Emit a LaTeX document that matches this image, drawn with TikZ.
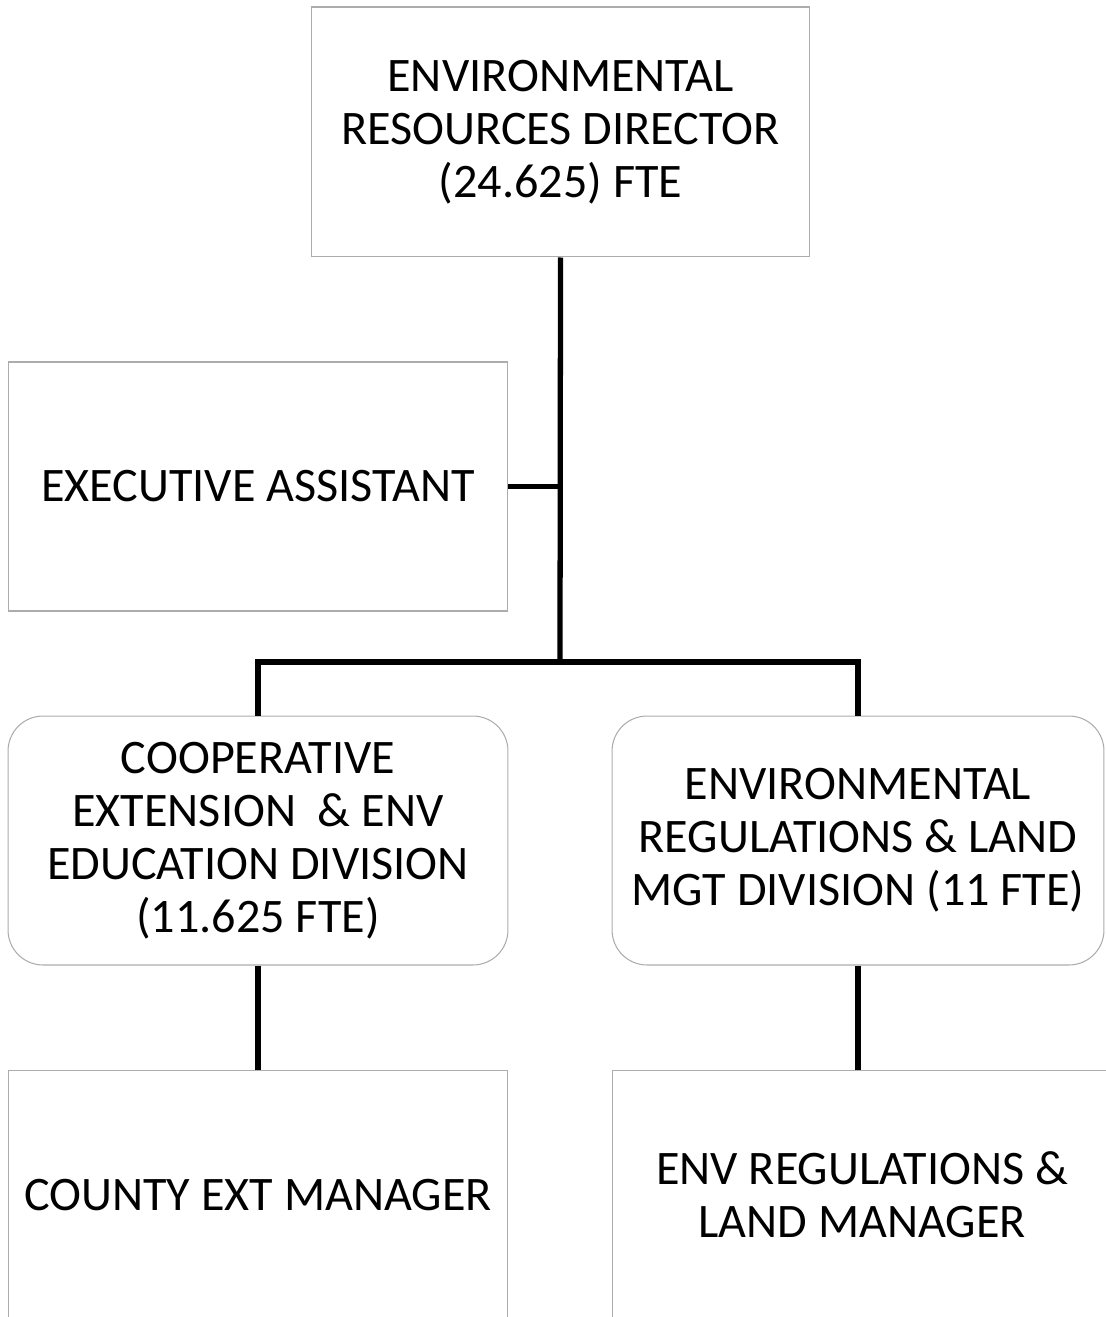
\documentclass[tikz,border=0pt]{standalone}
\usepackage{fontspec}
\setmainfont{Carlito}
\begin{document}
\begin{tikzpicture}[x=.02cm,y=-.02cm,line join=miter,
	box/.style={draw=gray!65,line width=.6pt,minimum width=10cm,minimum height=5cm,
		align=center,inner sep=0pt,font=\fontsize{27.4}{30.2}\selectfont},
	rbox/.style={box,rounded corners=.7cm},
	link/.style={line width=3pt}]
	\useasboundingbox (0,0) rectangle (1105,1317);
	% boxes
	\node[box,minimum width=9.98cm] (dir) at (560.5,132) {ENVIRONMENTAL\\RESOURCES DIRECTOR\\(24.625) FTE};
	\node[box,minimum height=4.98cm] (ea) at (258,486.5) {EXECUTIVE ASSISTANT};
	\node[rbox,minimum height=4.98cm] (coop) at (258,840.5) {COOPERATIVE\\EXTENSION \ \& ENV\\EDUCATION DIVISION\\(11.625 FTE)};
	\node[rbox,minimum width=9.84cm,minimum height=4.98cm] (erl) at (858,840.5) {ENVIRONMENTAL\\REGULATIONS \& LAND\\MGT DIVISION (11 FTE)};
	\node[box] (cem) at (258,1195) {COUNTY EXT MANAGER};
	\node[box] (elm) at (862,1195) {ENV REGULATIONS \&\\LAND MANAGER};
	% connectors
	\coordinate (bar) at (560,662);
	\draw[link] (dir.south) -- (bar);
	\draw[link] (ea.east) -- (ea.east -| bar);
	\draw[link] (coop.north) |- (bar) -| (erl.north);
	\draw[link] (coop.south) -- (cem.north);
	\draw[link] (erl.south) -- (erl.south |- elm.north);
\end{tikzpicture}
\end{document}
